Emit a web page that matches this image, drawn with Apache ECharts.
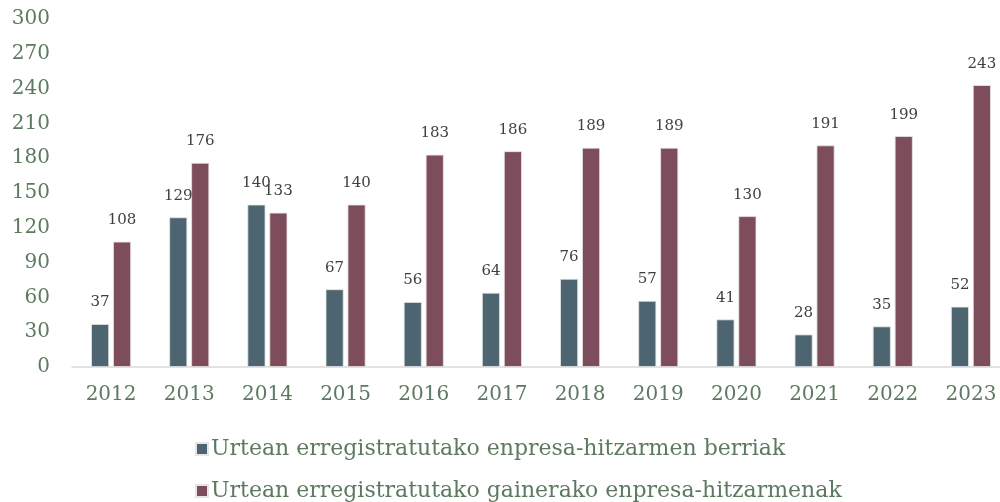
<!DOCTYPE html>
<html>
<head>
<meta charset="utf-8">
<script src="https://cdn.jsdelivr.net/npm/echarts@6/dist/echarts.min.js"></script>
<style>
  html, body { margin: 0; padding: 0; background: #ffffff; }
  #chart { width: 1000px; height: 502px; }
</style>
</head>
<body>
<div id="chart"></div>
<script>
// Years on the category axis
const years = ['2012', '2013', '2014', '2015', '2016', '2017', '2018', '2019', '2020', '2021', '2022', '2023'];
// Newly registered company agreements per year
const newAgreements = [37, 129, 140, 67, 56, 64, 76, 57, 41, 28, 35, 52];
// Other company agreements registered per year
const otherAgreements = [108, 176, 133, 140, 183, 186, 189, 189, 130, 191, 199, 243];
const seriesNames = [
  'Urtean erregistratutako enpresa-hitzarmen berriak',
  'Urtean erregistratutako gainerako enpresa-hitzarmenak'
];

const FONT = 'DejaVu Serif';
const GREEN = '#5d7a60';

const chart = echarts.init(document.getElementById('chart'), null, { renderer: 'canvas' });

const labelStyle = {
  show: true,
  position: 'top',
  distance: 14,
  fontFamily: FONT,
  fontSize: 15,
  color: '#404040'
};

// One legend block per series, stacked vertically
function legendFor(name, top) {
  return {
    left: 190,
    top: top,
    itemWidth: 12,
    itemHeight: 12,
    icon: 'rect',
    textStyle: { fontFamily: FONT, fontSize: 22, color: GREEN, padding: [0, 0, 0, -2] },
    data: [name]
  };
}

chart.setOption({
  animation: false,
  backgroundColor: '#ffffff',
  grid: { left: 72, width: 938, top: 19, bottom: 135, containLabel: false, outerBoundsMode: 'none' },
  legend: [legendFor(seriesNames[0], 433), legendFor(seriesNames[1], 475)],
  xAxis: {
    type: 'category',
    data: years,
    axisLine: { show: true, lineStyle: { color: '#d9d9d9', width: 1.5 } },
    axisTick: { show: false },
    axisLabel: { fontFamily: FONT, fontSize: 20, color: GREEN, margin: 18 }
  },
  yAxis: {
    type: 'value',
    min: 0,
    max: 300,
    interval: 30,
    splitLine: { show: false },
    axisLine: { show: false },
    axisTick: { show: false },
    axisLabel: { fontFamily: FONT, fontSize: 20, color: GREEN, margin: 22 }
  },
  series: [
    {
      name: seriesNames[0],
      type: 'bar',
      data: newAgreements,
      barWidth: 18,
      barGap: '22%',
      itemStyle: { color: '#4d6570', borderColor: '#e6e6e6', borderWidth: 0.8 },
      label: labelStyle
    },
    {
      name: seriesNames[1],
      type: 'bar',
      data: otherAgreements,
      barWidth: 18,
      itemStyle: { color: '#7d4d5b', borderColor: '#e6e6e6', borderWidth: 0.8 },
      label: labelStyle
    }
  ]
});
</script>
</body>
</html>
